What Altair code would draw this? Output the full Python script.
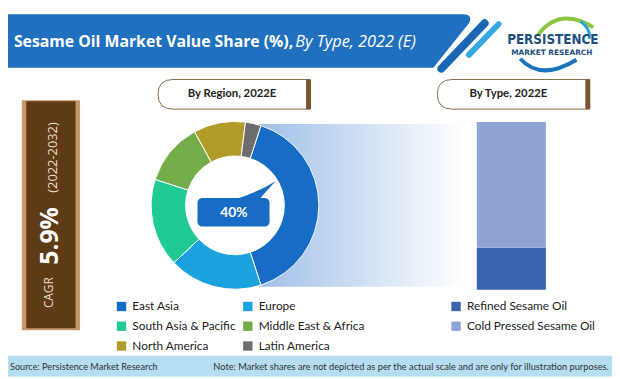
import altair as alt
import pandas as pd

# ---------------- data ----------------
regions = ["East Asia", "Europe", "South Asia & Pacific", "Middle East & Africa",
           "North America", "Latin America"]
region_share = [40, 18, 17, 12, 10, 3]
region_colors = ["#176dc6", "#1ba1dd", "#1fca95", "#72ad47", "#b19c2a", "#6d6d6d"]
# legend reading order (two columns, filled column by column)
legend_order = ["East Asia", "South Asia & Pacific", "North America",
                "Europe", "Middle East & Africa", "Latin America"]

types = ["Refined Sesame Oil", "Cold Pressed Sesame Oil"]
type_share = [25, 75]
type_colors = ["#3b63ae", "#8fa3d5"]

title_main = "Sesame Oil Market Value Share (%),"
title_sub = "By Type, 2022 (E)"
box_region = "By Region, 2022E"
box_type = "By Type, 2022E"
cagr_label = "CAGR"
cagr_value = "5.9%"
cagr_period = "(2022-2032)"
highlight = "40%"
source_text = "Source: Persistence Market Research"
note_text = "Note: Market shares are not depicted as per the actual scale and are only for illustration purposes."

# ---------------- helpers (page layout) ----------------
OFF = 8
one = pd.DataFrame({"k": [0]})
FONT = "Lato"
WIDE = "Open Sans"


def px(v):
    return v - OFF


def path(s):
    out = []
    for tok in s.split():
        if "," in tok:
            a, b = tok.split(",")
            out.append(f"{float(a) - OFF:g},{float(b) - OFF:g}")
        else:
            out.append(tok)
    return " ".join(out)


def shape(p, fill=None, stroke=None, sw=1.0):
    kw = dict(shape=path(p), size=4, opacity=1)
    if fill:
        kw.update(filled=True, fill=fill)
    else:
        kw.update(filled=False, fill="transparent")
    if stroke:
        kw.update(stroke=stroke, strokeWidth=sw)
    else:
        kw.update(strokeWidth=0)
    return alt.Chart(one).mark_point(**kw).encode(x=alt.value(0), y=alt.value(0))


def rect(x1, y1, x2, y2, **kw):
    return alt.Chart(one).mark_rect(**kw).encode(
        x=alt.value(px(x1)), x2=alt.value(px(x2)),
        y=alt.value(px(y1)), y2=alt.value(px(y2)))


def rule(x1, y1, x2, y2, **kw):
    return alt.Chart(one).mark_rule(**kw).encode(
        x=alt.value(px(x1)), x2=alt.value(px(x2)),
        y=alt.value(px(y1)), y2=alt.value(px(y2)))


def txt(s, x, y, size=12, color="#222", weight="normal", align="left",
        font=FONT, angle=0, style="normal"):
    return alt.Chart(one).mark_text(
        text=s, fontSize=size, color=color, fontWeight=weight, align=align,
        baseline="middle", font=font, angle=angle, fontStyle=style
    ).encode(x=alt.value(px(x)), y=alt.value(px(y)))


layers = []

# header banner
layers.append(shape("M 0,12 L 468,12 Q 480,12 475,21 L 439,66 L 0,66 Z", fill="#1f70be"))
layers.append(rule(447, 67, 491, 21, stroke="#1a66b5", strokeWidth=8, strokeCap="round"))
layers.append(rule(475, 53, 505, 22, stroke="#34a8e0", strokeWidth=6, strokeCap="round"))
layers.append(txt(title_main, 14, 40, size=16, color="white", weight="bold", font=WIDE))
layers.append(txt(title_sub, 299, 40, size=16.5, color="white", style="italic", font=WIDE))

# logo
layers.append(shape("M 545,33 Q 566,4 601,25", stroke="#8cc63f", sw=4))
layers.append(shape("M 527,57 Q 548,80 584,58", stroke="#1c75bc", sw=4))
layers.append(shape("M 588,19 Q 599,27 597,37", stroke="#29a3dd", sw=3))
layers.append(txt("PERSISTENCE", 560, 38, size=13.5, color="#1d4f7c", weight="bold",
                  align="center", font="Liberation Sans Narrow, DejaVu Sans Condensed, sans-serif"))
layers.append(txt("MARKET RESEARCH", 559, 51, size=7.5, color="#1d4f7c", weight="bold",
                  align="center", font="DejaVu Sans"))

# section boxes
layers.append(shape("M 175,78 L 314,78 L 314,108 L 175,108 Q 160,108 160,93 Q 160,78 175,78 Z",
                    fill="white", stroke="#8a6a4a", sw=1))
layers.append(rect(310, 78, 315, 108, fill="#7b5330"))
layers.append(txt(box_region, 235, 93, size=11.5, weight="bold", align="center"))
layers.append(shape("M 458,78 L 597,78 L 597,108 L 458,108 Q 443,108 443,93 Q 443,78 458,78 Z",
                    fill="white", stroke="#8a6a4a", sw=1))
layers.append(rect(593, 78, 598, 108, fill="#7b5330"))
layers.append(txt(box_type, 515, 93, size=11.5, weight="bold", align="center"))

# CAGR box
layers.append(rect(22, 99, 81, 332, fill="#c49a6c"))
layers.append(rect(26.5, 100, 76.5, 330, fill="#5e3b16"))
layers.append(txt(cagr_label, 50, 294, size=12, color="#eadfce", align="center", angle=270, font=WIDE))
layers.append(txt(cagr_value, 51, 236.5, size=25, color="white", weight="bold", align="center",
                  angle=270, font=WIDE))
layers.append(txt(cagr_period, 54, 157, size=13, color="#eadfce", align="center", angle=270, font=WIDE))

# gradient band linking donut to the bar
grad = alt.Gradient(gradient="linear",
                    stops=[alt.GradientStop(color="#9fc0e8", offset=0),
                           alt.GradientStop(color="#ffffff", offset=1)],
                    x1=0, x2=1, y1=0, y2=0)
layers.append(rect(262, 123, 470, 288, fill=grad))

# white disc under the donut hole
layers.append(alt.Chart(one).mark_arc(radius=51, theta=0, theta2=6.2832, fill="white")
              .encode(x=alt.value(px(238)), y=alt.value(px(205.5))))

# donut chart by region
df_region = pd.DataFrame({"region": regions, "share": region_share,
                          "i": list(range(len(regions)))})
legend_colors = [region_colors[regions.index(r)] for r in legend_order]
start = 0.314
donut = alt.Chart(df_region).mark_arc(radius=85, radius2=50, stroke="white", strokeWidth=1).encode(
    theta=alt.Theta("share:Q", stack=True, scale=alt.Scale(range=[start, start + 6.2832])),
    order=alt.Order("i:Q"),
    color=alt.Color("region:N",
                    scale=alt.Scale(domain=legend_order, range=legend_colors),
                    legend=alt.Legend(orient="none", legendX=px(117), legendY=px(302),
                                      columns=2, title=None, symbolType="square",
                                      symbolSize=90, symbolStrokeWidth=0,
                                      labelFont=FONT, labelFontSize=12, labelColor="#222",
                                      labelOffset=5, rowPadding=8, columnPadding=5,
                                      padding=0, labelLimit=300)),
    x=alt.value(px(238)), y=alt.value(px(205.5)),
)
layers.append(donut)

# callout
layers.append(shape("M 236,200 Q 262,192 279,181 Q 268,193 262,200 Z", fill="#176dc6"))
layers.append(rect(200, 198, 273, 227, fill="#176dc6", cornerRadius=5))
layers.append(txt(highlight, 237, 213, size=14, color="white", weight="bold", align="center"))

# stacked bar by type
df_type = pd.DataFrame({"type": types, "share": type_share, "i": list(range(len(types)))})
bar = alt.Chart(df_type).transform_stack(
    stack="share", as_=["s0", "s1"], groupby=[], sort=[alt.SortField("i", order="ascending")]
).mark_rect().encode(
    y=alt.Y("s0:Q", scale=alt.Scale(domain=[0, 100], range=[px(291), px(121)], nice=False, zero=True),
            axis=None),
    y2="s1:Q",
    color=alt.Color("type:N",
                    scale=alt.Scale(domain=types, range=type_colors),
                    legend=alt.Legend(orient="none", legendX=px(456), legendY=px(302),
                                      direction="vertical", title=None, symbolType="square",
                                      symbolSize=90, symbolStrokeWidth=0,
                                      labelFont=FONT, labelFontSize=12, labelColor="#222",
                                      labelOffset=5, rowPadding=8, padding=0, labelLimit=300)),
    x=alt.value(px(483)), x2=alt.value(px(553)),
)
layers.append(bar)

# footer
layers.append(rect(0, 358, 620, 379, fill="#b5def2"))
layers.append(txt(source_text, 10, 369, size=9.3, color="#333"))
layers.append(txt(note_text, 216, 369, size=9.4, color="#333"))

chart = alt.layer(*layers).resolve_scale(
    color="independent"
).properties(
    width=612, height=371, padding=0,
    autosize=alt.AutoSizeParams(type="none"),
    background="white",
).configure_view(stroke=None)

chart.save("out.html", embed_options={"renderer": "svg", "actions": False})
